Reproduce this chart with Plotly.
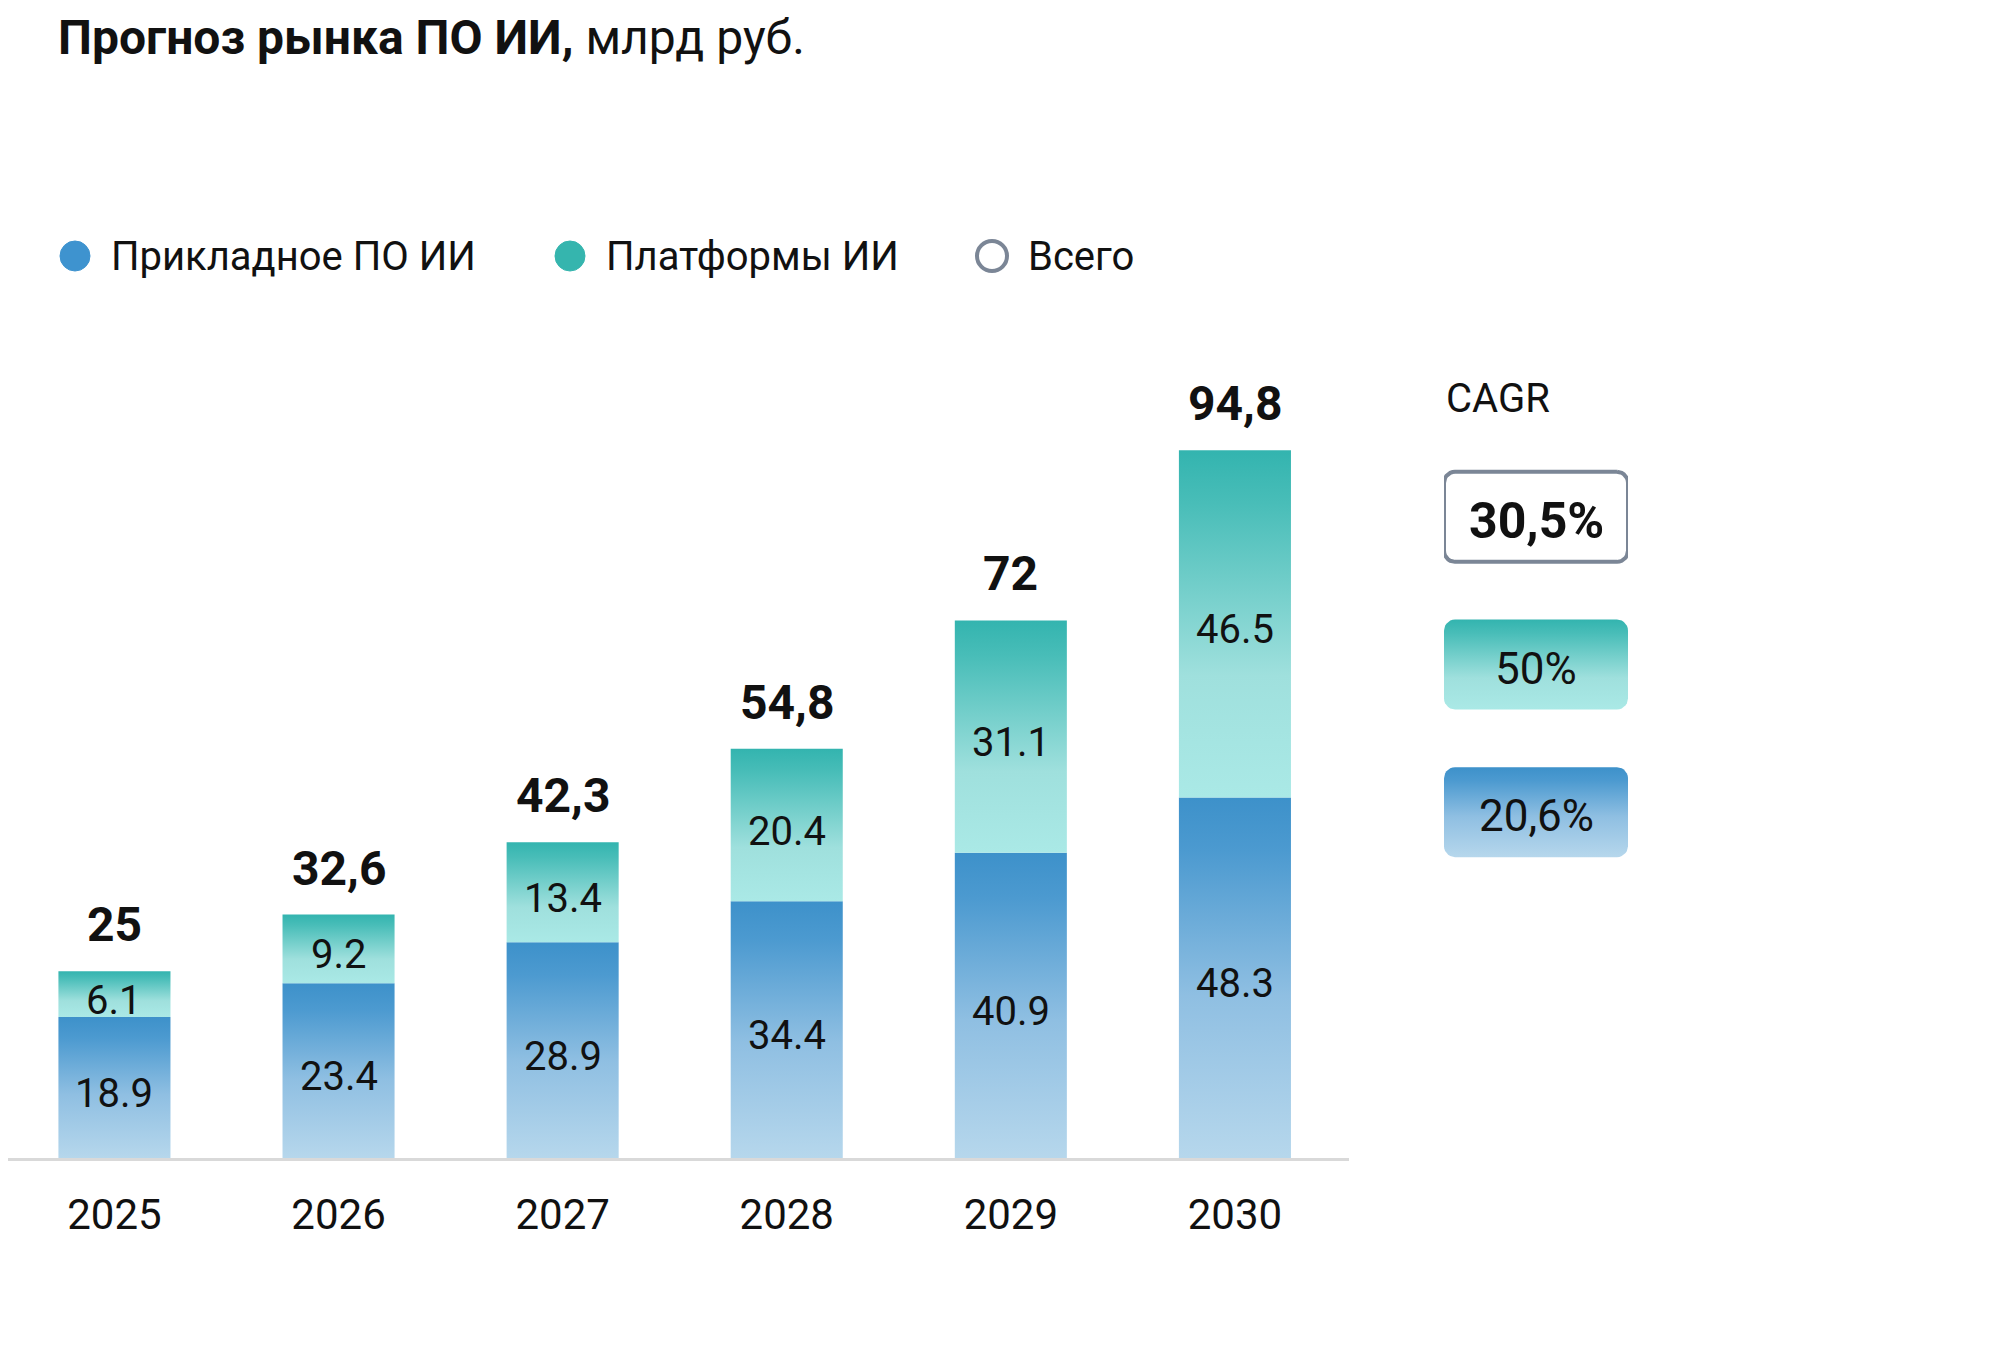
import numpy as np
import plotly.graph_objects as go

years = ["2025", "2026", "2027", "2028", "2029", "2030"]
applied = [18.9, 23.4, 28.9, 34.4, 40.9, 48.3]      # Прикладное ПО ИИ
platforms = [6.1, 9.2, 13.4, 20.4, 31.1, 46.5]      # Платформы ИИ
totals = [round(a + p, 1) for a, p in zip(applied, platforms)]

cagr_labels = ["30,5%", "50%", "20,6%"]
legend_names = ["Прикладное ПО ИИ", "Платформы ИИ", "Всего"]

FONT = "Roboto"
W, H = 2000, 1345
OFF = 10      # page body margin shifts the picture; compensate
BASE = 1160 - OFF  # pixel row of the x axis (plot area bottom)
PX_PER_UNIT = 7.466

BLUE_SCALE = [[0, "#b6d7ec"], [0.45, "#8fbfe2"], [0.85, "#4c9ad0"], [1, "#3d91ca"]]
TEAL_SCALE = [[0, "#aae9e6"], [0.35, "#9fe0dd"], [0.85, "#48bdb8"], [1, "#33b4af"]]


def px(x):
    return (x - OFF) / W


def py(y):
    return (BASE - (y - OFF)) / BASE


def fmt_total(v):
    return f"{v:g}".replace(".", ",")


fig = go.Figure()

# stacked bars drawn as gradient-filled polygons
half = 0.25
for i, (a, p) in enumerate(zip(applied, platforms)):
    for y0, y1, scale in [(0, a, BLUE_SCALE), (a, a + p, TEAL_SCALE)]:
        fig.add_trace(go.Scatter(
            x=[i - half, i + half, i + half, i - half, i - half],
            y=[y0, y0, y1, y1, y0],
            mode="lines", line=dict(width=0), fill="toself",
            fillgradient=dict(type="vertical", colorscale=scale, start=y0, stop=y1),
            hoverinfo="skip", showlegend=False,
        ))

# segment values, centred in each segment
for i, (a, p) in enumerate(zip(applied, platforms)):
    for ymid, v in [(a / 2, a), (a + p / 2, p)]:
        fig.add_annotation(
            x=i, y=ymid, text=f"{v}", showarrow=False, yshift=-6,
            font=dict(family=FONT, size=40, color="#111111"),
        )

# totals above bars
for i, t in enumerate(totals):
    fig.add_annotation(
        x=i, y=t, text=f"<b>{fmt_total(t)}</b>", showarrow=False,
        yanchor="bottom", yshift=16,
        font=dict(family=FONT, size=48, color="#111111"),
    )

# CAGR panel: rounded boxes on their own axes
def rounded_box(cy, w=1.0, h=0.61, rx=0.06, ry=0.075, n=8):
    xs, ys = [], []
    corners = [
        (w - rx, cy - h / 2 + ry, -np.pi / 2, 0),
        (w - rx, cy + h / 2 - ry, 0, np.pi / 2),
        (rx, cy + h / 2 - ry, np.pi / 2, np.pi),
        (rx, cy - h / 2 + ry, np.pi, 1.5 * np.pi),
    ]
    for ccx, ccy, a0, a1 in corners:
        t = np.linspace(a0, a1, n)
        xs += list(ccx + rx * np.cos(t))
        ys += list(ccy + ry * np.sin(t))
    xs.append(xs[0])
    ys.append(ys[0])
    return xs, ys

box_styles = [
    dict(line=dict(color="#7b8696", width=4), fillcolor="#ffffff"),
    dict(line=dict(width=0), fillgradient=dict(type="vertical", colorscale=TEAL_SCALE)),
    dict(line=dict(width=0), fillgradient=dict(type="vertical", colorscale=BLUE_SCALE)),
]
for k, style in enumerate(box_styles):
    bx, by = rounded_box(k)
    st = dict(style)
    if "fillgradient" in st:
        st["fillgradient"] = dict(st["fillgradient"], start=k + 0.305, stop=k - 0.305)
    fig.add_trace(go.Scatter(
        x=bx, y=by, mode="lines", fill="toself", xaxis="x2", yaxis="y2",
        hoverinfo="skip", showlegend=False, **st,
    ))

for k, lab in enumerate(cagr_labels):
    fig.add_annotation(
        x=0.5, y=k, xref="x2", yref="y2", showarrow=False, yshift=-4,
        text=f"<b>{lab}</b>" if k == 0 else lab,
        font=dict(family=FONT, size=50 if k == 0 else 44, color="#111111"),
    )

fig.add_annotation(
    x=px(1446), y=py(401), xref="paper", yref="paper", text="CAGR",
    showarrow=False, xanchor="left", yanchor="middle",
    font=dict(family=FONT, size=40, color="#111111"),
)

# title
fig.add_annotation(
    x=px(58), y=py(40), xref="paper", yref="paper",
    text="<b>Прогноз рынка ПО ИИ,</b> млрд руб.",
    showarrow=False, xanchor="left", yanchor="middle",
    font=dict(family=FONT, size=48, color="#111111"),
)

# legend row
legend_x = [77, 572, 994]
legend_fill = ["#3e93cf", "#35b5ae", "#ffffff"]
legend_line = ["#3e93cf", "#35b5ae", "#7b8696"]
for name, lx, fc, lc in zip(legend_names, legend_x, legend_fill, legend_line):
    fig.add_shape(
        type="circle", xref="paper", yref="paper",
        xsizemode="pixel", ysizemode="pixel",
        xanchor=px(lx), yanchor=py(258),
        x0=-15, x1=15, y0=-15, y1=15,
        fillcolor=fc, line=dict(color=lc, width=4 if fc == "#ffffff" else 1),
    )
    fig.add_annotation(
        x=px(lx + 34), y=py(258), xref="paper", yref="paper", text=name,
        showarrow=False, xanchor="left", yanchor="middle",
        font=dict(family=FONT, size=40, color="#111111"),
    )

fig.update_layout(
    width=W, height=H,
    margin=dict(l=0, r=0, t=0, b=H - BASE),
    paper_bgcolor="white", plot_bgcolor="white",
    showlegend=False,
    xaxis=dict(
        domain=[0, 1341 / W], range=[-0.475, 5.509],
        tickmode="array", tickvals=list(range(len(years))), ticktext=years,
        showgrid=False, zeroline=False,
        showline=True, linecolor="#d9d9d9", linewidth=3,
        ticks="", ticklabelstandoff=18,
        tickfont=dict(family=FONT, size=42, color="#111111"),
        fixedrange=True,
    ),
    yaxis=dict(
        domain=[0, 1], range=[0, BASE / PX_PER_UNIT],
        visible=False, fixedrange=True,
    ),
    xaxis2=dict(
        domain=[px(1446), px(1630)], range=[0, 1], anchor="y2",
        visible=False, fixedrange=True,
    ),
    yaxis2=dict(
        domain=[py(888), py(445)], range=[2.5, -0.5], anchor="x2",
        visible=False, fixedrange=True,
    ),
)

fig.write_html("out.html")
